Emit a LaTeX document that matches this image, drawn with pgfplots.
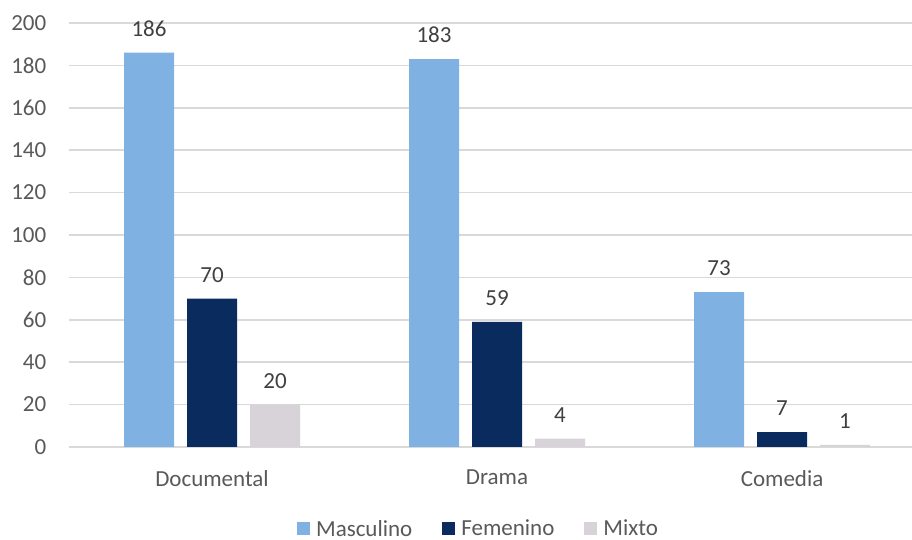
\documentclass[border=0pt]{standalone}
\usepackage{fontspec}
\setmainfont{Carlito}
\usepackage{pgfplots}
\pgfplotsset{compat=1.18}
\definecolor{masc}{HTML}{7FB1E3}
\definecolor{fem}{HTML}{0A2B5E}
\definecolor{mix}{HTML}{D7D3D8}
\definecolor{gridc}{HTML}{D9D9D9}
\definecolor{ticklab}{HTML}{595959}
\definecolor{vallab}{HTML}{404040}
\newcommand{\cfont}{\fontsize{23pt}{27pt}\selectfont}
\begin{document}
\begin{tikzpicture}
\path[use as bounding box] (0,0) rectangle (912pt,540pt);
\begin{axis}[
  at={(69.5pt,93pt)}, anchor=south west,
  scale only axis, width=842.5pt, height=424pt,
  xmin=-0.5, xmax=2.456, ymin=0, ymax=200,
  enlargelimits=false,
  ybar=13pt, bar width=50pt,
  xtick={0,1,2}, xticklabels={Documental,Drama,Comedia},
  ytick={0,20,...,200},
  ymajorgrids, grid style={gridc, line width=1.5pt},
  axis line style={draw=none},
  major tick length=0pt,
  /pgf/number format/assume math mode=true,
  tick label style={font=\cfont, text=ticklab},
  yticklabel style={inner sep=0pt, anchor=east, xshift=-23pt},
  xticklabel style={inner sep=0pt, anchor=north, yshift=-23pt},
  nodes near coords,
  nodes near coords style={font=\cfont, text=vallab, anchor=south, inner sep=0pt, yshift=16pt},
  legend style={at={(0.4855,-0.193)}, anchor=center, draw=none, fill=none,
    legend columns=3, font=\cfont, text=ticklab,
    /tikz/every odd column/.append style={column sep=4pt},
    /tikz/every even column/.append style={column sep=28pt}},
  legend image code/.code={\draw[#1,draw=none] (0pt,-6.5pt) rectangle (13pt,6.5pt);},
]
\addplot[fill=masc, draw=none] coordinates {(0,186) (1,183) (2,73)};
\addplot[fill=fem, draw=none] coordinates {(0,70) (1,59) (2,7)};
\addplot[fill=mix, draw=none] coordinates {(0,20) (1,4) (2,1)};
\legend{Masculino,Femenino,Mixto}
\end{axis}
\end{tikzpicture}
\end{document}
